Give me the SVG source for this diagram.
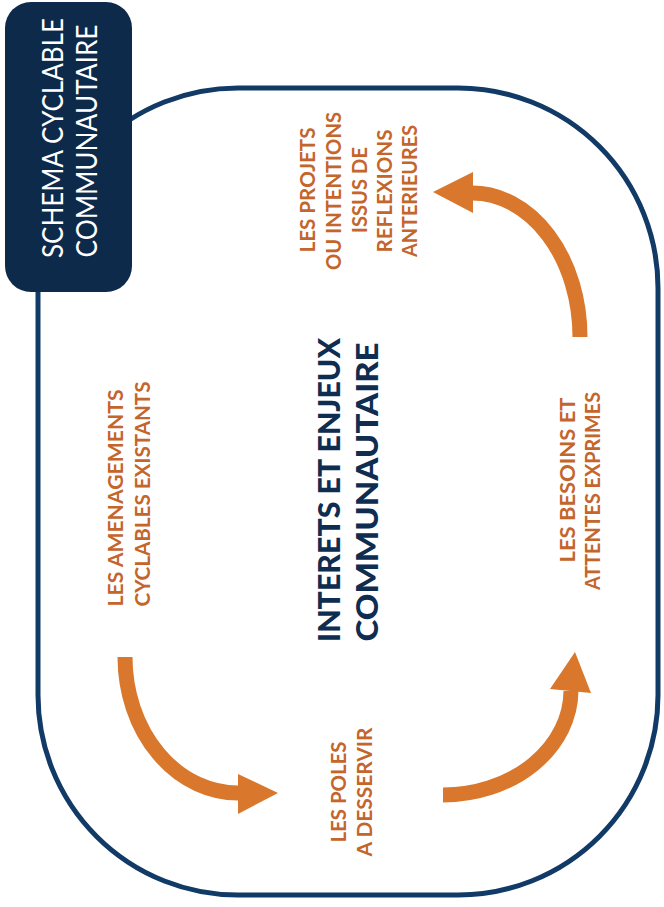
<svg xmlns="http://www.w3.org/2000/svg" width="664" height="907" viewBox="0 0 664 907">
<defs>
<style>
.frame{fill:none;stroke:#123a66;stroke-width:5}
.box{fill:#0e2a4b}
.title{font-family:Lato,"Open Sans",sans-serif;font-size:28px;fill:#ffffff;text-anchor:middle}
.lbl{font-family:Lato,"Open Sans",sans-serif;font-weight:bold;font-size:21px;fill:#c4652b;text-anchor:middle}
.ctr{font-family:Lato,"Open Sans",sans-serif;font-weight:900;font-size:31px;fill:#0e2d50;text-anchor:middle}
.shaft{fill:none;stroke:#d9782c;stroke-width:15}
.head{fill:#d9782c}
</style>
</defs>
<rect id="frame" class="frame" x="38" y="88" width="620" height="807" rx="200" ry="200"/>
<g id="title">
<rect class="box" x="5" y="2" width="127" height="290" rx="26" ry="26"/>
<text class="title" transform="translate(63,138) rotate(-90)" textLength="240" lengthAdjust="spacingAndGlyphs">SCHEMA CYCLABLE</text>
<text class="title" transform="translate(97,141) rotate(-90)" textLength="233" lengthAdjust="spacingAndGlyphs">COMMUNAUTAIRE</text>
</g>
<g id="center">
<text class="ctr" transform="translate(340,490) rotate(-90)" textLength="304" lengthAdjust="spacingAndGlyphs">INTERETS ET ENJEUX</text>
<text class="ctr" transform="translate(378,492) rotate(-90)" textLength="299" lengthAdjust="spacingAndGlyphs">COMMUNAUTAIRE</text>
</g>
<g id="amenagements">
<text class="lbl" transform="translate(123,498) rotate(-90)" textLength="217" lengthAdjust="spacingAndGlyphs">LES AMENAGEMENTS</text>
<text class="lbl" transform="translate(150,494) rotate(-90)" textLength="225" lengthAdjust="spacingAndGlyphs">CYCLABLES EXISTANTS</text>
</g>
<g id="poles">
<text class="lbl" transform="translate(346,792) rotate(-90)" textLength="101" lengthAdjust="spacingAndGlyphs">LES POLES</text>
<text class="lbl" transform="translate(372,792) rotate(-90)" textLength="129" lengthAdjust="spacingAndGlyphs">A DESSERVIR</text>
</g>
<g id="besoins">
<text class="lbl" transform="translate(575,480) rotate(-90)" textLength="165" lengthAdjust="spacingAndGlyphs">LES BESOINS ET</text>
<text class="lbl" transform="translate(600,491) rotate(-90)" textLength="198" lengthAdjust="spacingAndGlyphs">ATTENTES EXPRIMES</text>
</g>
<g id="projets">
<text class="lbl" transform="translate(315,190) rotate(-90)" textLength="125" lengthAdjust="spacingAndGlyphs">LES PROJETS</text>
<text class="lbl" transform="translate(341,191) rotate(-90)" textLength="158" lengthAdjust="spacingAndGlyphs">OU INTENTIONS</text>
<text class="lbl" transform="translate(367,190) rotate(-90)" textLength="86" lengthAdjust="spacingAndGlyphs">ISSUS DE</text>
<text class="lbl" transform="translate(392,191) rotate(-90)" textLength="123" lengthAdjust="spacingAndGlyphs">REFLEXIONS</text>
<text class="lbl" transform="translate(417,191) rotate(-90)" textLength="132" lengthAdjust="spacingAndGlyphs">ANTERIEURES</text>
</g>
<g id="connectors">
<path class="shaft" d="M125,657 A113,136 0 0 0 240,793"/>
<polygon class="head" points="238,774 238,814 278,793"/>
<path class="shaft" d="M443,795 A128,105 0 0 0 571,691"/>
<polygon class="head" points="550,689 591,693 575,652"/>
<path class="shaft" d="M580,337 A108,144 0 0 0 472,193"/>
<polygon class="head" points="473,172 473,213 433,192"/>
</g>
</svg>
